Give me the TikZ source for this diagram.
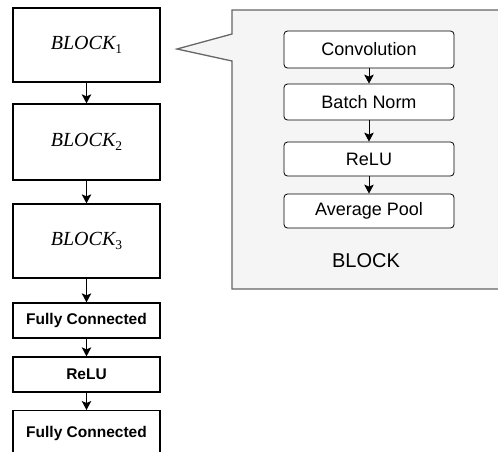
\documentclass[tikz,border=0pt]{standalone}
\usepackage{fontspec}
\setmainfont{Liberation Serif}
\setsansfont{Liberation Sans}
\usetikzlibrary{arrows.meta}
\definecolor{calloutfill}{HTML}{F5F5F5}
\definecolor{calloutdraw}{HTML}{666666}
\newcommand{\blk}[1]{\fontsize{20}{23}\selectfont\itshape BLOCK\raisebox{-0.22em}{\upshape\fontsize{13.5}{15}\selectfont #1}}
\tikzset{
  bigbox/.style={draw=black, line width=1.3pt, fill=white, minimum width=147pt, inner sep=0pt},
  fcbox/.style={draw=black, line width=1.3pt, fill=white, minimum width=147pt, minimum height=35pt, inner sep=0pt, font=\sffamily\bfseries\fontsize{15.5}{18}\selectfont},
  inbox/.style={draw=black, line width=0.8pt, fill=white, rounded corners=3.5pt, minimum width=170pt, inner sep=0pt, font=\sffamily\fontsize{18}{21}\selectfont},
  arr/.style={-{Stealth[length=9pt,width=9.5pt,inset=2pt]}, line width=1pt},
  iarr/.style={-{Stealth[length=9pt,width=9.5pt,inset=2pt]}, line width=0.9pt},
}
\begin{document}
\begin{tikzpicture}[x=1pt,y=-1pt]
\useasboundingbox (0,0) rectangle (498,451);
\clip (0,0) rectangle (498,451);
% callout
\draw[calloutdraw, fill=calloutfill, line width=1.3pt]
  (505,10) -- (232,10) -- (232,34) -- (177,49) -- (232,61) -- (232,289) -- (505,289);
% left chain
\node[bigbox, minimum height=74pt] (b1) at (86.5,45) {\blk{1}};
\node[bigbox, minimum height=76pt] (b2) at (86.5,142) {\blk{2}};
\node[bigbox, minimum height=74pt] (b3) at (86.5,241) {\blk{3}};
\node[fcbox] (fc1) at (86.5,320.5) {Fully Connected};
\node[fcbox] (relu) at (86.5,374.5) {ReLU};
\node[fcbox, minimum height=52pt, anchor=north] (fc2) at (86.5,410) {};
\node[font=\sffamily\bfseries\fontsize{15.5}{18}\selectfont] (fc2t) at (86.5,433) {Fully Connected};
\draw[arr] (b1.south) -- (b2.north);
\draw[arr] (b2.south) -- (b3.north);
\draw[arr] (b3.south) -- (fc1.north);
\draw[arr] (fc1.south) -- (relu.north);
\draw[arr] (relu.south) -- (fc2.north);
% inner boxes
\node[inbox, minimum height=37pt] (conv) at (369,49.5) {Convolution};
\node[inbox, minimum height=36pt] (bn) at (369,102) {Batch Norm};
\node[inbox, minimum height=34pt] (ir) at (369,159) {ReLU};
\node[inbox, minimum height=34pt] (ap) at (369,211) {Average Pool};
\draw[iarr] (conv.south) -- (bn.north);
\draw[iarr] (bn.south) -- (ir.north);
\draw[iarr] (ir.south) -- (ap.north);
\node[font=\sffamily\fontsize{20}{24}\selectfont] (lbl) at (366,261) {BLOCK};
\end{tikzpicture}
\end{document}
